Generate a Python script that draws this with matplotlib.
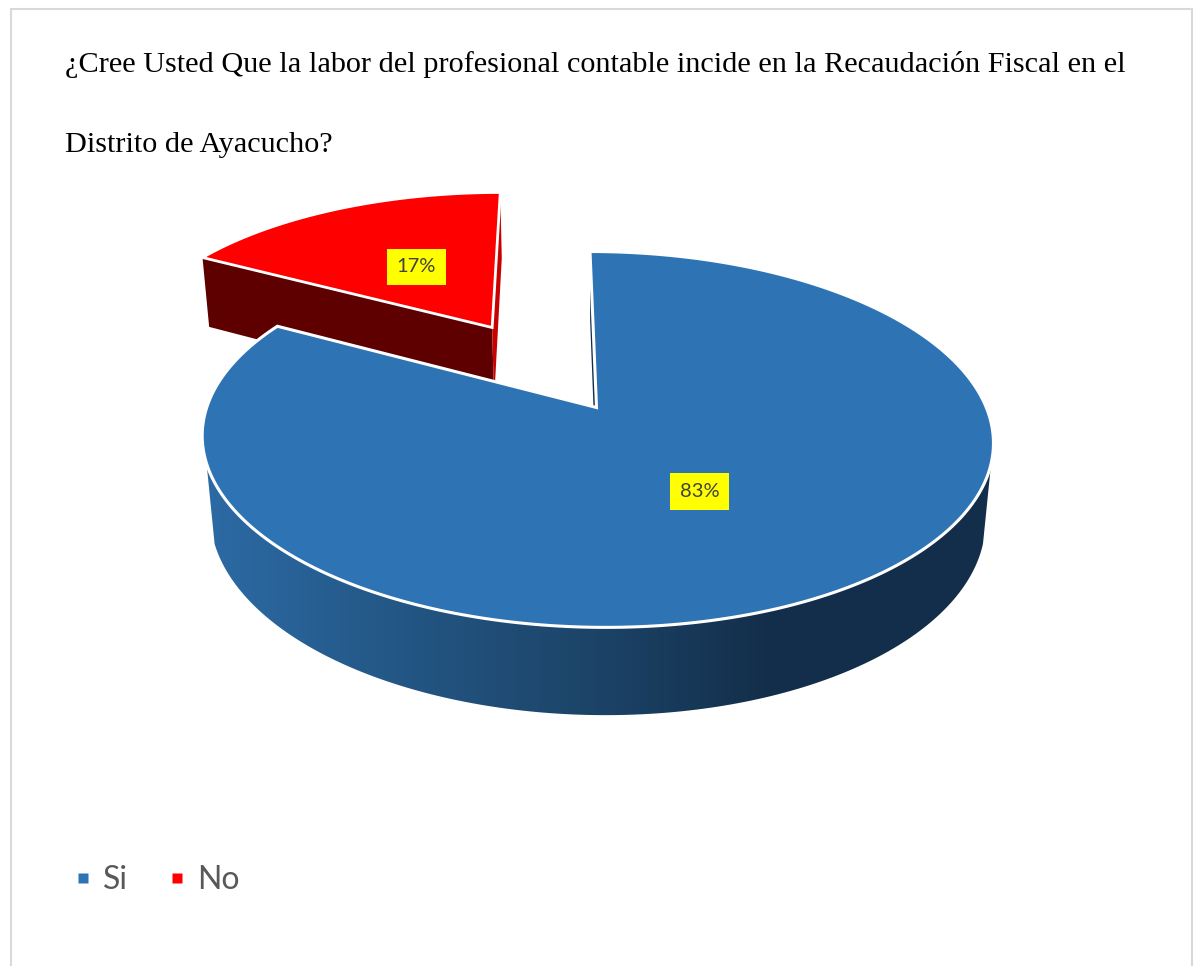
import matplotlib
matplotlib.use("Agg")
import matplotlib.pyplot as plt
import numpy as np
from matplotlib.colors import LinearSegmentedColormap
from matplotlib.lines import Line2D
from matplotlib.patches import Polygon

title_lines = [
    "¿Cree Usted Que la labor del profesional contable incide en la Recaudación Fiscal en el",
    "Distrito de Ayacucho?",
]
categories = ["Si", "No"]
shares = [83, 17]
labels = ["83%", "17%"]
top_colors = ["#2E74B5", "#FF0000"]

# pie projection, in figure pixels
APEX_X, APEX_Y = 596.5, 407.5
SCALE_X, SCALE_Y = 389.8, 182.5
SKEW = -7.6
PERSPECTIVE = 0.17
DEPTH = 79.0
DEPTH_W = 0.02
START_ANGLE = 0.0
EXPLODE = 0.55
LABEL_R = 0.49


def project(u, v, lower=False):
    w = 1 + PERSPECTIVE * v
    drop = 0.0
    if lower:
        w = w + DEPTH_W
        drop = DEPTH
    return APEX_X + (SCALE_X * u + SKEW * v) / w, APEX_Y - (SCALE_Y * v - drop) / w


def rim(angles, offset, lower=False):
    rad = np.radians(angles)
    x, y = project(offset[0] + np.sin(rad), offset[1] + np.cos(rad), lower)
    return np.column_stack([x, y])


def polar(angle, r=1.0):
    return r * np.sin(np.radians(angle)), r * np.cos(np.radians(angle))


fig = plt.figure(figsize=(11.94, 9.66), dpi=100)
ax = fig.add_axes([0, 0, 1, 1])

blue_end = START_ANGLE + 360 * shares[0] / sum(shares)
red_end = START_ANGLE + 360
red_mid = (blue_end + red_end) / 2
red_off = polar(red_mid, EXPLODE)
blue_off = (0.0, 0.0)

# exploded slice: cut faces first, top surface after
red_apex_top = np.array(project(*red_off))
red_apex_low = np.array(project(*red_off, lower=True))
red_left_top = rim(np.array([blue_end]), red_off)[0]
red_left_low = rim(np.array([blue_end]), red_off, lower=True)[0]
red_right_top = rim(np.array([red_end]), red_off)[0]
red_right_low = rim(np.array([red_end]), red_off, lower=True)[0]
ax.add_patch(Polygon([red_left_top, red_apex_top, red_apex_low, red_left_low],
                     facecolor="#5F0000", edgecolor="none"))
ax.add_patch(Polygon([red_right_top, red_apex_top, red_apex_low, red_right_low],
                     facecolor="#C80000", edgecolor="none"))
red_arc = rim(np.linspace(blue_end, red_end, 80), red_off)
ax.add_patch(Polygon(np.vstack([red_apex_top, red_arc]), facecolor=top_colors[1],
                     edgecolor="white", linewidth=2.0, joinstyle="miter"))

# inner face of the large slice
blue_apex_top = np.array(project(0, 0))
blue_apex_low = np.array(project(0, 0, lower=True))
start_top = rim(np.array([START_ANGLE]), blue_off)[0]
start_low = rim(np.array([START_ANGLE]), blue_off, lower=True)[0]
ax.add_patch(Polygon([start_top, blue_apex_top, blue_apex_low, start_low],
                     facecolor="#132E4A", edgecolor="none"))

# outer wall with a left to right shade
wall_angles = np.linspace(107, 253, 160)
wall = np.vstack([rim(wall_angles, blue_off),
                  rim(wall_angles[::-1], blue_off, lower=True)])
wall_patch = Polygon(wall, facecolor="none", edgecolor="none")
ax.add_patch(wall_patch)
shade = LinearSegmentedColormap.from_list(
    "wall", [(0.0, "#2C6AA4"), (0.25, "#235684"), (0.5, "#1C4367"),
             (0.72, "#132E4A"), (1.0, "#132E4A")])
grad = ax.imshow(np.linspace(0, 1, 400).reshape(1, -1), cmap=shade, aspect="auto",
                 extent=[wall[:, 0].min(), wall[:, 0].max(), 730, 440], zorder=1.5)
grad.set_clip_path(wall_patch)

blue_arc = rim(np.linspace(START_ANGLE, blue_end, 300), blue_off)
ax.add_patch(Polygon(np.vstack([blue_apex_top, blue_arc]), facecolor=top_colors[0],
                     edgecolor="white", linewidth=2.2, joinstyle="miter", zorder=2))

# percentage labels along each slice's middle angle
blue_mid = (START_ANGLE + blue_end) / 2
for label, mid, off, nudge in zip(labels, [blue_mid, red_mid], [blue_off, red_off], [-5, 5]):
    du, dv = polar(mid, LABEL_R)
    lx, ly = project(off[0] + du, off[1] + dv)
    ax.text(lx + nudge, ly + 1, label, family="Lato", fontsize=14.5, color="#404040",
            ha="center", va="center", zorder=3,
            bbox=dict(boxstyle="square,pad=0.48", facecolor="#FFFF00", edgecolor="none"))

for line, y in zip(title_lines, [72, 152]):
    ax.text(65, y, line, family="Liberation Serif", fontsize=21.8, color="black",
            ha="left", va="baseline")

handles = [Line2D([], [], linestyle="none", marker="s", markersize=7.6,
                  markerfacecolor=c, markeredgecolor="none") for c in top_colors]
ax.legend(handles, categories, loc="center left", bbox_to_anchor=(73 / 1194, 1 - 880 / 966),
          ncol=2, frameon=False, prop={"family": "Lato", "size": 23},
          labelcolor="#595959", handlelength=0.6, handletextpad=0.33,
          columnspacing=1.24, borderpad=0, borderaxespad=0)

# chart frame, open at the bottom
ax.plot([11, 11, 1192, 1192], [966, 8.5, 8.5, 966], color="#D9D9D9", linewidth=1.5,
        solid_joinstyle="miter")

ax.set_xlim(0, 1194)
ax.set_ylim(966, 0)
ax.axis("off")
fig.savefig("out.png", dpi=100)
